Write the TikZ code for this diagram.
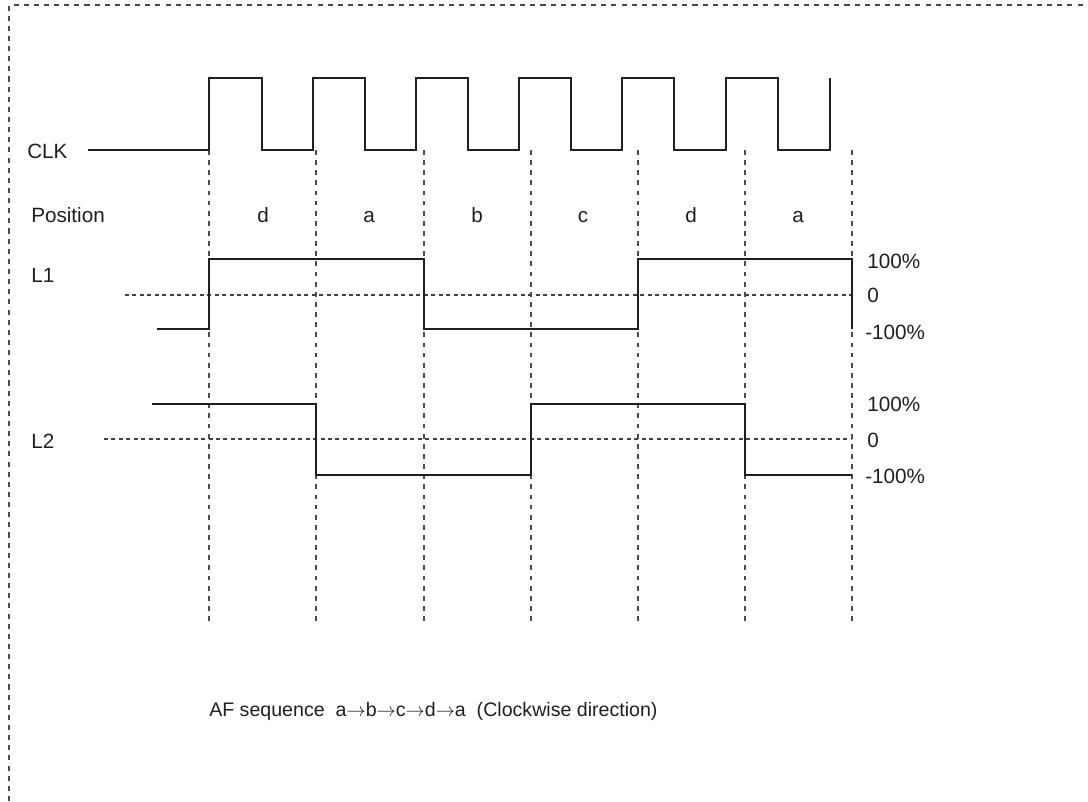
\documentclass[tikz,border=0pt]{standalone}
\usepackage{fontspec}
\setmainfont{Liberation Sans}
\begin{document}
\begin{tikzpicture}[x=0.75pt,y=-0.75pt,
  sig/.style={line width=2pt,color=black!88,line join=miter},
  guide/.style={line width=0.8pt,color=black!70,dash pattern=on 3.6pt off 4pt},
  zeroline/.style={line width=0.8pt,color=black!75,dash pattern=on 3pt off 2.6pt},
  frameline/.style={line width=0.8pt,color=black!70,dash pattern=on 3.8pt off 3.8pt},
  lbl/.style={font=\fontsize{15.5}{18}\selectfont,text=black!88,inner sep=0pt}]
\useasboundingbox (0,0) rectangle (1088,801);
% frame
\draw[frameline] (9,801) -- (9,5) -- (1088,5);
% vertical guides
\foreach \x in {209,316,424,531,638,745,852}
  \draw[guide] (\x,150) -- (\x,625);
% zero lines
\draw[zeroline] (125,295) -- (852,295);
\draw[zeroline] (104,439) -- (852,439);
% CLK
\draw[sig] (88,150) -- (209,150) -- (209,78) -- (262,78) -- (262,150)
  -- (313,150) -- (313,78) -- (365,78) -- (365,150)
  -- (416,150) -- (416,78) -- (468,78) -- (468,150)
  -- (519,150) -- (519,78) -- (571,78) -- (571,150)
  -- (622,150) -- (622,78) -- (674,78) -- (674,150)
  -- (726,150) -- (726,78) -- (778,78) -- (778,150)
  -- (830,150) -- (830,78);
% L1
\draw[sig] (157,329) -- (209,329) -- (209,259) -- (424,259) -- (424,329)
  -- (638,329) -- (638,259) -- (852,259) -- (852,329);
% L2
\draw[sig] (152,404) -- (316,404) -- (316,475) -- (531,475) -- (531,404)
  -- (745,404) -- (745,475) -- (852,475);
% labels
\node[lbl,anchor=west] (clk) at (27,151) {CLK};
\node[lbl,anchor=west] (pos) at (31,215) {Position};
\node[lbl,anchor=west] (l1) at (31,275) {L1};
\node[lbl,anchor=west] (l2) at (31,441) {L2};
\node[lbl,anchor=base] (p1) at (263,222.5) {d};
\node[lbl,anchor=base] (p2) at (369,222.5) {a};
\node[lbl,anchor=base] (p3) at (477,222.5) {b};
\node[lbl,anchor=base] (p4) at (583,222.5) {c};
\node[lbl,anchor=base] (p5) at (691,222.5) {d};
\node[lbl,anchor=base] (p6) at (798,222.5) {a};
\node[lbl,anchor=west] (r1) at (867,261) {100\%};
\node[lbl,anchor=west] (r2) at (867,295) {0};
\node[lbl,anchor=west] (r3) at (865,332) {-100\%};
\node[lbl,anchor=west] (r4) at (867,404) {100\%};
\node[lbl,anchor=west] (r5) at (867,440) {0};
\node[lbl,anchor=west] (r6) at (865,476) {-100\%};
\node[lbl,anchor=west,font=\fontsize{14.7}{17}\selectfont] (seq) at (209,711) {AF sequence\ \ a$\to$b$\to$c$\to$d$\to$a\ \ (Clockwise direction)};
\end{tikzpicture}
\end{document}
